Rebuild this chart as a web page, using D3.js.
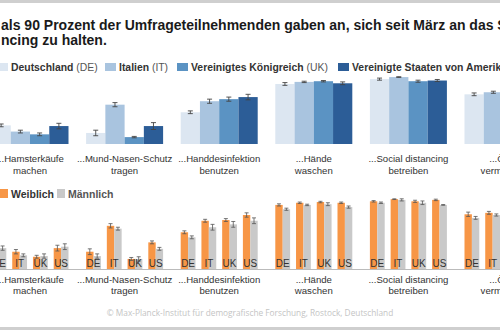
<!DOCTYPE html>
<html>
<head>
<meta charset="utf-8">
<script src="https://cdn.jsdelivr.net/npm/d3@7"></script>
<style>
  body { margin: 0; background: #fff; }
  svg { display: block; font-family: "Liberation Sans", Arial, sans-serif; }
</style>
</head>
<body>
<svg id="chart" width="500" height="330"></svg>
<script>
// data
var titleLines = ["als 90 Prozent der Umfrageteilnehmenden gaben an, sich seit März an das Social Distancing",
                  "ncing zu halten."];
var groups = [
  ["...Hamsterkäufe", "machen"],
  ["...Mund-Nasen-Schutz", "tragen"],
  ["...Handdesinfektion", "benutzen"],
  ["...Hände", "waschen"],
  ["...Social distancing", "betreiben"],
  ["...Öffis", "vermeiden"]
];
var countries = ["DE", "IT", "UK", "US"];
var countryNames = ["Deutschland", "Italien", "Vereinigtes Königreich", "Vereinigte Staaten von Amerika"];
// percent per group, per country (DE, IT, UK, US)
var countryValues = [
  [27, 18, 14, 26],
  [16, 57, 10, 26],
  [46, 62, 65, 68],
  [87, 90, 91, 88],
  [94, 97, 91, 92],
  [72, 75, 74, 70]
];
var countryErrors = [
  [2, 2, 2, 4],
  [4, 3, 1, 5],
  [2, 3, 3, 4],
  [2, 1, 1, 2],
  [1.5, 0.5, 1.5, 1.5],
  [2, 1.5, 1.5, 2]
];
var sexes = ["Weiblich", "Männlich"];
var femaleValues = [
  [30, 24, 17, 29],
  [24, 60, 14, 37],
  [51, 67, 68, 75],
  [89, 92, 93, 92],
  [94, 97, 94, 96],
  [76, 78, 76, 74]
];
var maleValues = [
  [29, 19, 18, 31],
  [18, 56, 14, 28],
  [44, 58, 62, 67],
  [83, 89, 90, 86],
  [92, 96, 92, 89],
  [71, 75, 72, 70]
];
var femaleErrors = [
  [3, 3, 2, 4],
  [4, 3, 2, 2],
  [2, 2, 2, 3],
  [1.5, 1, 1, 1],
  [1, 0.5, 1.5, 1],
  [3, 2, 2, 2]
];
var maleErrors = [
  [3, 2, 3, 4],
  [3, 2, 3, 2],
  [2, 4, 4, 4],
  [1.5, 1, 2, 1.5],
  [1, 1.5, 2.5, 0.5],
  [2, 1.5, 2, 2]
];

var countryColors = ["#dce6f1", "#a9c4df", "#5b93c3", "#2c5d97"];
var sexColors = ["#f79646", "#c9c9c9"];

var svg = d3.select("#chart");

// frame bars top and bottom
svg.append("rect").attr("x", 0).attr("y", 0).attr("width", 500).attr("height", 3).attr("fill", "#cfcfcf");
svg.append("rect").attr("x", 0).attr("y", 327).attr("width", 500).attr("height", 3).attr("fill", "#cfcfcf");

// title
svg.append("g").selectAll("text")
  .data(titleLines)
  .enter().append("text")
  .attr("x", 1)
  .attr("y", function (d, i) { return 30 + i * 15; })
  .attr("font-size", 14)
  .attr("font-weight", "bold")
  .attr("fill", "#1a1a1a")
  .text(function (d) { return d; });

var x0 = d3.scaleBand()
  .domain(d3.range(groups.length))
  .range([-8.5, 541.5])
  .paddingInner(0.186);

// ---- top panel: countries ----
var yTop = d3.scaleLinear().domain([0, 100]).range([144, 75]);
var xCountry = d3.scaleBand().domain(countries).range([0, x0.bandwidth()]);

var legendTop = svg.append("g");
var legX = [-3, 105, 177, 338];
countries.forEach(function (c, i) {
  legendTop.append("rect")
    .attr("x", legX[i]).attr("y", 63).attr("width", 11).attr("height", 8)
    .attr("fill", countryColors[i]);
  var t = legendTop.append("text")
    .attr("x", legX[i] + 14).attr("y", 71)
    .attr("font-size", 10.4)
    .attr("fill", "#333");
  t.append("tspan").attr("font-weight", "bold").text(countryNames[i]);
  if (i < 3) t.append("tspan").attr("fill", "#555").text(" (" + c + ")");
});

var topPanel = svg.append("g");
groups.forEach(function (g, gi) {
  var gx = x0(gi);
  var cell = topPanel.append("g").attr("transform", "translate(" + gx + ",0)");
  cell.selectAll("rect")
    .data(countries)
    .enter().append("rect")
    .attr("x", function (d) { return xCountry(d); })
    .attr("y", function (d, i) { return yTop(countryValues[gi][i]); })
    .attr("width", xCountry.bandwidth())
    .attr("height", function (d, i) { return yTop(0) - yTop(countryValues[gi][i]); })
    .attr("fill", function (d, i) { return countryColors[i]; });
  countries.forEach(function (c, i) {
    var cx = xCountry(c) + xCountry.bandwidth() / 2;
    var v = countryValues[gi][i], e = countryErrors[gi][i];
    var eb = cell.append("g").attr("stroke", "#444").attr("stroke-width", 0.9);
    eb.append("line").attr("x1", cx).attr("x2", cx).attr("y1", yTop(v - e)).attr("y2", yTop(v + e));
    eb.append("line").attr("x1", cx - 2.5).attr("x2", cx + 2.5).attr("y1", yTop(v - e)).attr("y2", yTop(v - e));
    eb.append("line").attr("x1", cx - 2.5).attr("x2", cx + 2.5).attr("y1", yTop(v + e)).attr("y2", yTop(v + e));
  });
  cell.selectAll(".glabel")
    .data(g)
    .enter().append("text")
    .attr("x", x0.bandwidth() / 2)
    .attr("y", function (d, i) { return 162 + i * 12; })
    .attr("text-anchor", "middle")
    .attr("font-size", 9.6)
    .attr("fill", "#333")
    .text(function (d) { return d; });
});

// ---- bottom panel: sex ----
var yBot = d3.scaleLinear().domain([0, 100]).range([269, 197]);
var xPair = d3.scaleBand().domain(countries).range([0, x0.bandwidth()]).paddingInner(0.286);
var xSex = d3.scaleBand().domain(sexes).range([0, xPair.bandwidth()]);

var legendBot = svg.append("g");
var legX2 = [0, 57];
sexes.forEach(function (s, i) {
  legendBot.append("rect")
    .attr("x", legX2[i]).attr("y", 189).attr("width", 8).attr("height", 9)
    .attr("fill", sexColors[i]);
  legendBot.append("text")
    .attr("x", legX2[i] + 11).attr("y", 197.5)
    .attr("font-size", 10.5)
    .attr("font-weight", "bold")
    .attr("fill", i === 0 ? "#333" : "#555")
    .text(s);
});

svg.append("line")
  .attr("x1", 0).attr("x2", 500)
  .attr("y1", yBot(0) + 0.5).attr("y2", yBot(0) + 0.5)
  .attr("stroke", "#bbb").attr("stroke-width", 1);

var botPanel = svg.append("g");
groups.forEach(function (g, gi) {
  var cell = botPanel.append("g").attr("transform", "translate(" + x0(gi) + ",0)");
  countries.forEach(function (c, ci) {
    var vals = [femaleValues[gi][ci], maleValues[gi][ci]];
    var errs = [femaleErrors[gi][ci], maleErrors[gi][ci]];
    var pair = cell.append("g").attr("transform", "translate(" + xPair(c) + ",0)");
    pair.selectAll("rect")
      .data(sexes)
      .enter().append("rect")
      .attr("x", function (d) { return xSex(d); })
      .attr("y", function (d, i) { return yBot(vals[i]); })
      .attr("width", xSex.bandwidth())
      .attr("height", function (d, i) { return yBot(0) - yBot(vals[i]); })
      .attr("fill", function (d, i) { return sexColors[i]; });
    sexes.forEach(function (s, i) {
      var cx = xSex(s) + xSex.bandwidth() / 2;
      var v = vals[i], e = errs[i];
      var eb = pair.append("g").attr("stroke", "#555").attr("stroke-width", 0.8);
      eb.append("line").attr("x1", cx).attr("x2", cx).attr("y1", yBot(v - e)).attr("y2", yBot(v + e));
      eb.append("line").attr("x1", cx - 2).attr("x2", cx + 2).attr("y1", yBot(v - e)).attr("y2", yBot(v - e));
      eb.append("line").attr("x1", cx - 2).attr("x2", cx + 2).attr("y1", yBot(v + e)).attr("y2", yBot(v + e));
    });
    pair.append("text")
      .attr("x", xPair.bandwidth() / 2)
      .attr("y", 267)
      .attr("text-anchor", "middle")
      .attr("font-size", 10)
      .attr("fill", "#333")
      .text(c);
  });
  cell.selectAll(".glabel")
    .data(g)
    .enter().append("text")
    .attr("x", x0.bandwidth() / 2)
    .attr("y", function (d, i) { return 283 + i * 11; })
    .attr("text-anchor", "middle")
    .attr("font-size", 9.6)
    .attr("fill", "#333")
    .text(function (d) { return d; });
});

// footer
svg.append("text")
  .attr("x", 250).attr("y", 316)
  .attr("text-anchor", "middle")
  .attr("font-family", "'Open Sans', sans-serif")
  .attr("font-size", 8.3)
  .attr("fill", "#c4c4c4")
  .text("© Max-Planck-Institut für demografische Forschung, Rostock, Deutschland");
</script>
</body>
</html>
